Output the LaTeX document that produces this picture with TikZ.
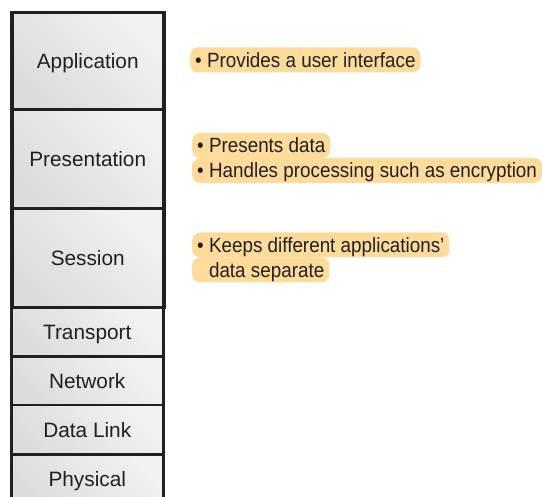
\documentclass[tikz,border=0pt]{standalone}
\usepackage{fontspec}
\setmainfont{Liberation Sans}
\newfontfamily\condfont[FakeStretch=0.915]{Liberation Sans}
\definecolor{ink}{HTML}{231F20}
\definecolor{hl}{HTML}{FDDB9A}
\definecolor{shadeA}{HTML}{DCDCDE}
\definecolor{shadeB}{HTML}{F2F2F2}
\begin{document}
\begin{tikzpicture}[x=1pt,y=-1pt,
  layer/.style={draw=ink, shading=axis, top color=shadeA, bottom color=shadeB,
    shading angle=135, minimum width=152pt, inner sep=0pt, text=ink,
    font=\fontsize{20.8}{24}\selectfont, text height=15pt, text depth=0pt,
    anchor=north west},
  upper/.style={layer, line width=3.5pt},
  lower/.style={layer, line width=2.5pt},
  note/.style={fill=hl, rounded corners=8pt, anchor=west, inner xsep=5pt,
    inner ysep=0pt, minimum height=25pt, text=ink,
    font=\condfont\fontsize{20.6}{24}\selectfont, text height=14.7pt, text depth=0pt}]
  \useasboundingbox (0,0) rectangle (542,497);
  \fill[white] (0,0) rectangle (542,497);

  % lower four layers (thinner rules)
  \node[lower, minimum height=49.5pt] (transport) at (10,306)   {Transport};
  \node[lower, minimum height=48.5pt] (network)   at (10,355.5) {Network};
  \node[lower, minimum height=49.5pt] (datalink)  at (10,404)   {Data Link};
  \node[lower, minimum height=49pt]   (physical)  at (10,453.5) {Physical};

  % upper three layers (heavier rules)
  \node[upper, minimum height=97pt] (application)  at (10,11)  {Application};
  \node[upper, minimum height=99pt] (presentation) at (10,108) {Presentation};
  \node[upper, minimum height=99pt] (session)      at (10,207) {Session};

  % highlighted descriptions
  \node[note] (n1) at (190,60)    {• Provides a user interface};
  \node[note] (n2) at (192,145.5) {• Presents data};
  \node[note] (n3) at (192,170.5) {• Handles processing such as encryption};
  \node[note] (n4) at (192,245)   {• Keeps different applications’};
  \node[note] (n5) at (192,270)   {\phantom{•} data separate};
\end{tikzpicture}
\end{document}
